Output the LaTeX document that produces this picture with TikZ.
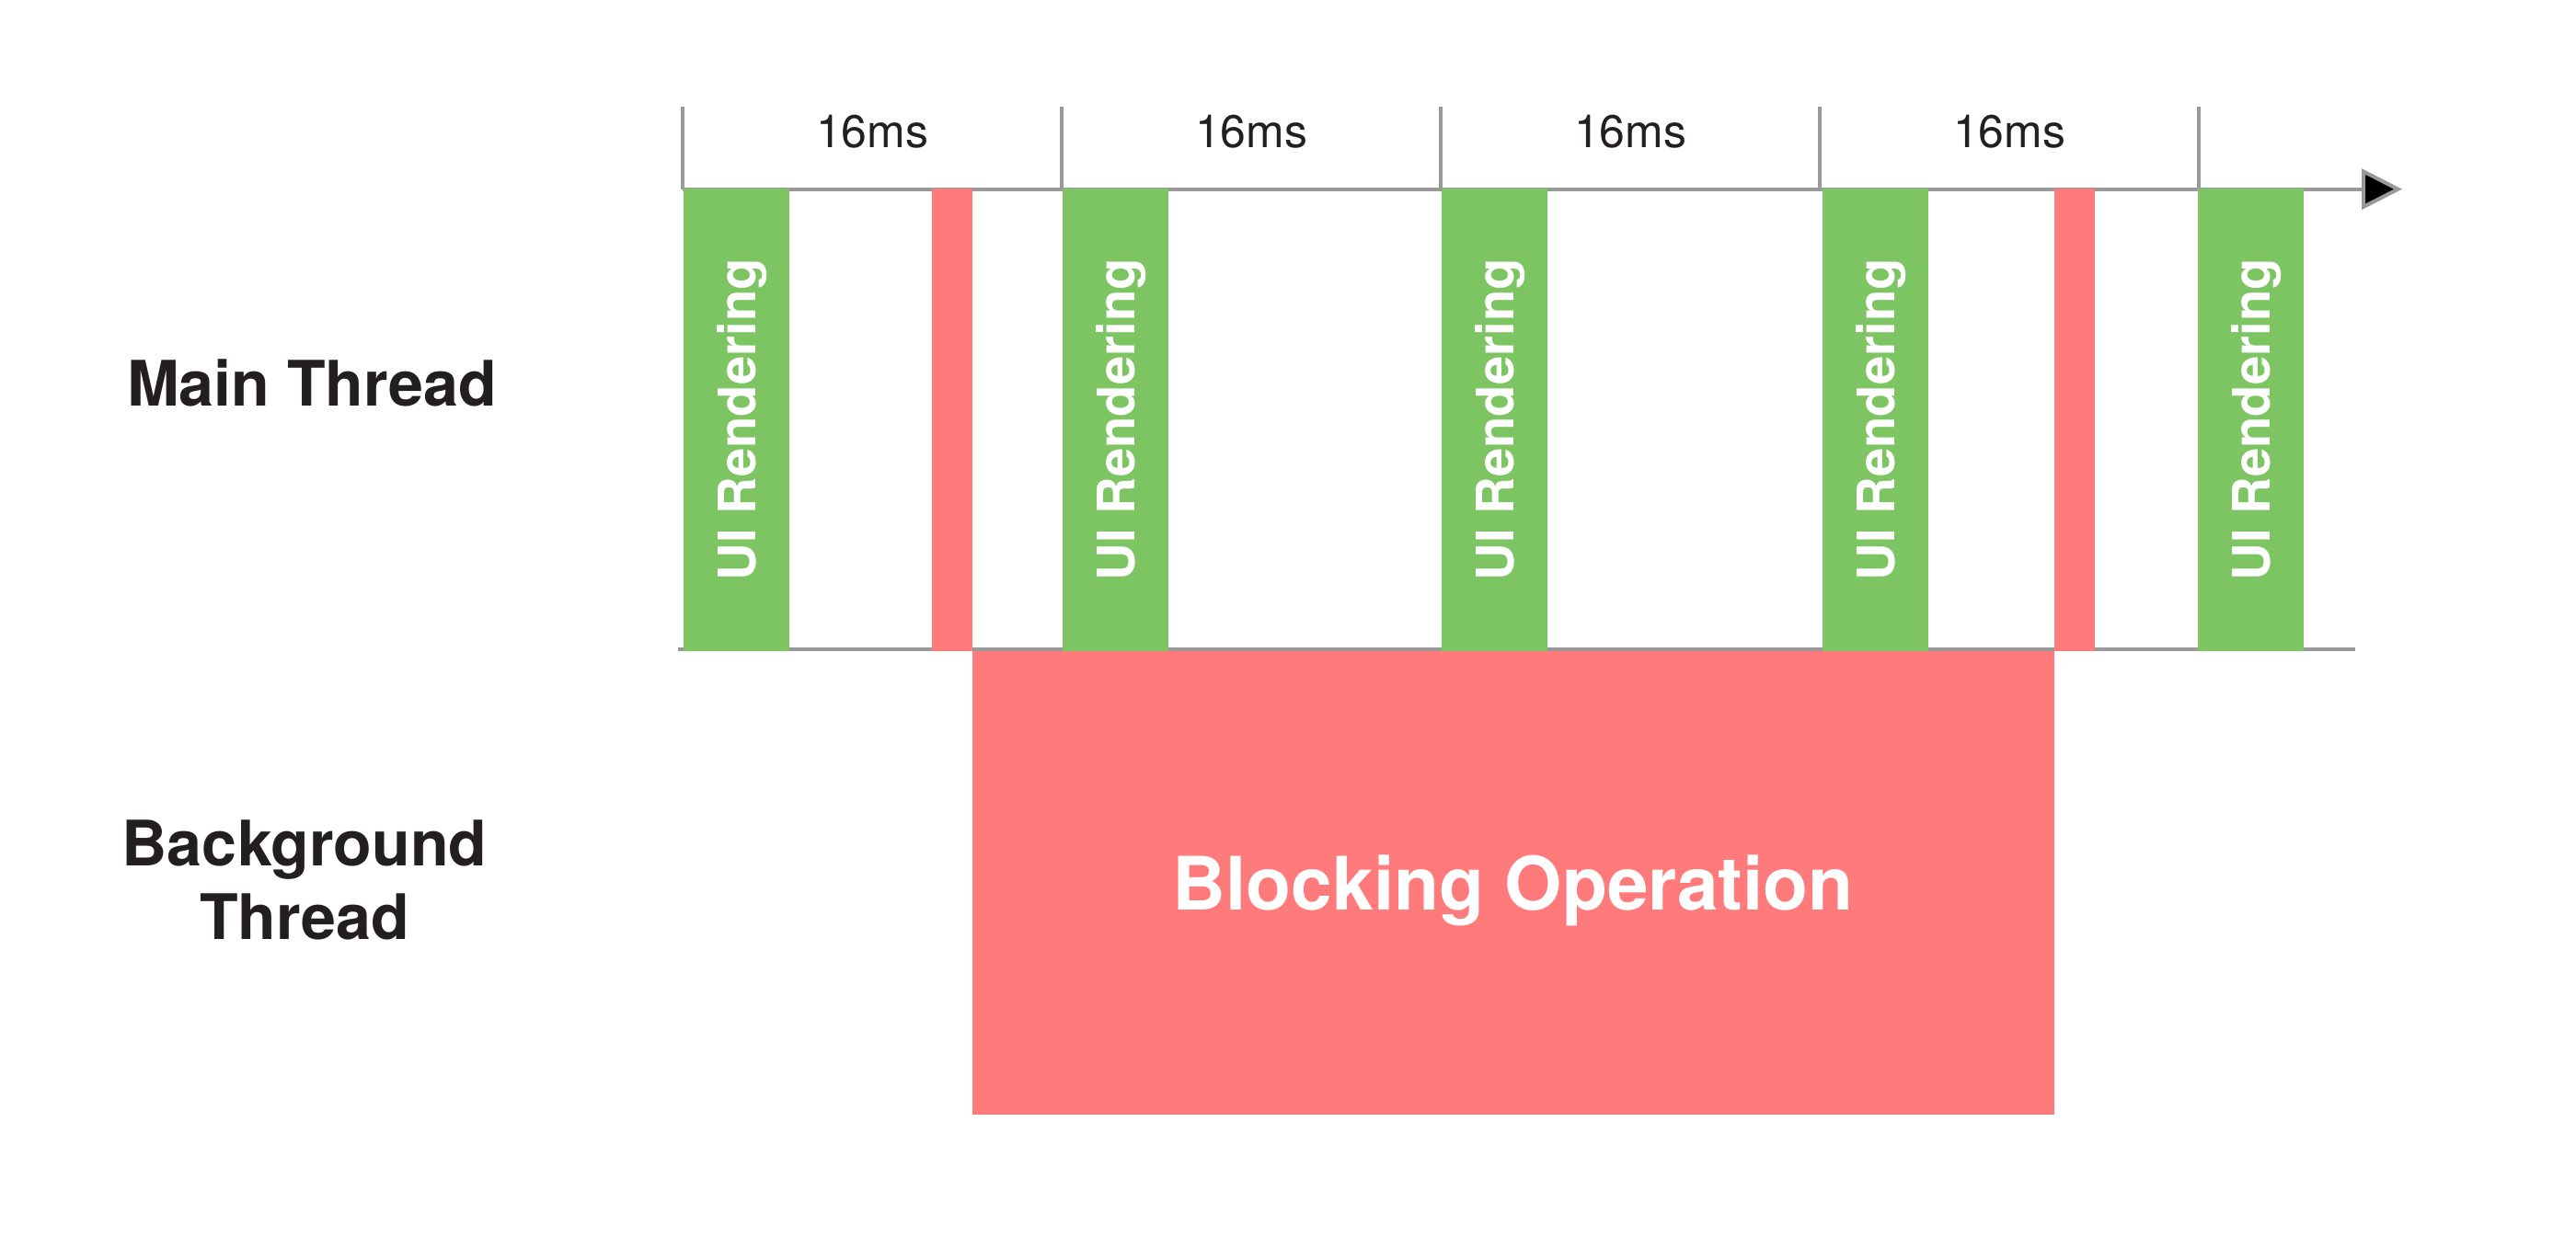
\documentclass[tikz,border=0pt]{standalone}
\usepackage{fontspec}
\setmainfont{TeX Gyre Heros}
\usepackage{graphicx}
\usetikzlibrary{arrows.meta}

\definecolor{uigreen}{RGB}{125,196,98}
\definecolor{blockred}{RGB}{255,123,123}
\definecolor{axisgray}{RGB}{153,153,153}
\definecolor{labeltext}{RGB}{35,31,32}

\newcommand{\uilabel}{\rotatebox{90}{\raisebox{0pt}[\height][0pt]{UI Rendering}}}

\begin{document}
\begin{tikzpicture}[
    axis/.style={draw=axisgray, line width=1.15pt},
    uibar/.style={fill=uigreen, text=white, inner sep=0pt, anchor=north west,
        minimum width=1.15cm, minimum height=5.03cm,
        font=\fontsize{16}{19}\selectfont\bfseries},
    stall/.style={fill=blockred, inner sep=0pt, anchor=north west,
        minimum width=0.44cm, minimum height=5.03cm},
    period/.style={text=labeltext, inner sep=0pt, font=\fontsize{14.2}{17}\selectfont},
    thread/.style={text=labeltext, inner sep=0pt, align=center,
        font=\fontsize{19.4}{22.8}\selectfont\bfseries}
]

    \useasboundingbox (0,0) rectangle (28,-13.68);

    % time axis with 16ms frames
    \coordinate (t0) at (7.42,-2.057);
    \coordinate (t1) at (11.54,-2.057);
    \coordinate (t2) at (15.66,-2.057);
    \coordinate (t3) at (19.78,-2.057);
    \coordinate (t4) at (23.90,-2.057);
    \coordinate (tend) at (26.11,-2.057);
    \draw[axis,-{Triangle[length=0.44cm,width=0.44cm,fill=black]}] (t0) -- (tend);
    \foreach \t in {t0,t1,t2,t3,t4}
        \draw[axis] (\t) -- ++(0,0.9);

    \node[period] (p1) at (9.48,-1.435) {16ms};
    \node[period] (p2) at (13.60,-1.435) {16ms};
    \node[period] (p3) at (17.72,-1.435) {16ms};
    \node[period] (p4) at (21.84,-1.435) {16ms};

    % base line of the main thread
    \coordinate (b0) at (7.37,-7.06);
    \coordinate (b1) at (25.60,-7.06);
    \draw[axis] (b0) -- (b1);

    % main thread
    \node[uibar] (r0) at (7.42,-2.04) {\uilabel};
    \node[uibar] (r1) at (11.54,-2.04) {\uilabel};
    \node[uibar] (r2) at (15.66,-2.04) {\uilabel};
    \node[uibar] (r3) at (19.80,-2.04) {\uilabel};
    \node[uibar] (r4) at (23.88,-2.04) {\uilabel};
    \node[stall] (s0) at (10.12,-2.04) {};
    \node[stall] (s1) at (22.32,-2.04) {};

    % background thread
    \node[fill=blockred, text=white, inner sep=0pt, anchor=north west,
        minimum width=11.76cm, minimum height=5.04cm, text depth=0pt,
        font=\fontsize{22.8}{27}\selectfont\bfseries] (block) at (10.56,-7.07) {Blocking Operation};

    \node[thread] (main) at (3.39,-4.16) {Main Thread};
    \node[thread] (bg) at (3.31,-9.57) {Background\\Thread};

\end{tikzpicture}
\end{document}
